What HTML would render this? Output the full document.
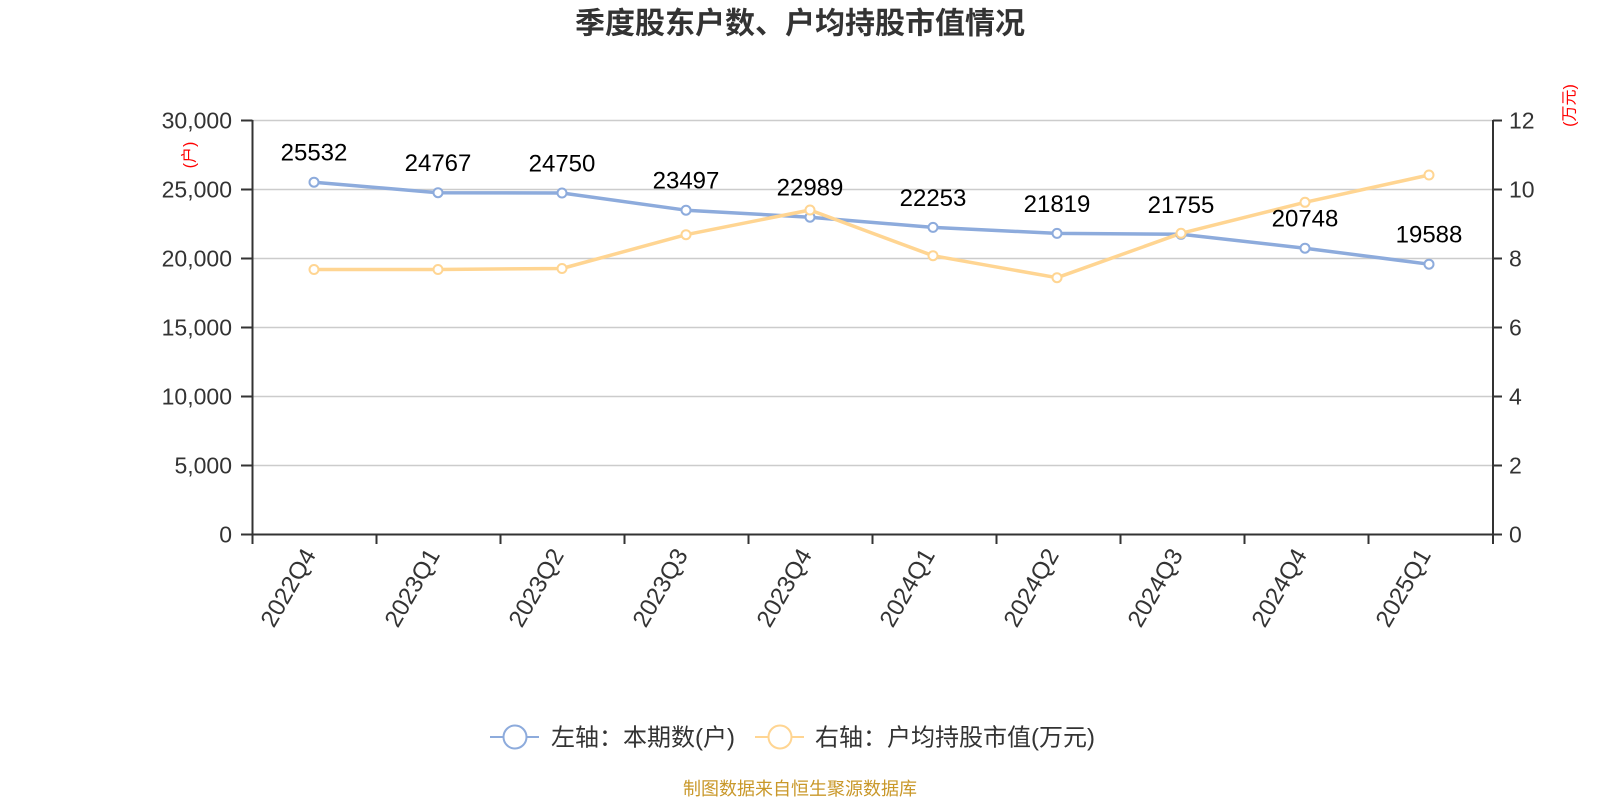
<!DOCTYPE html>
<html><head><meta charset="utf-8"><style>
html,body{margin:0;padding:0;background:#fff;}
svg{display:block;font-family:"Liberation Sans","Noto Sans CJK SC",sans-serif;}
</style></head><body>
<svg width="1600" height="800" viewBox="0 0 1600 800" xmlns="http://www.w3.org/2000/svg">
<rect width="1600" height="800" fill="#fff"/>
<text x="800" y="24" text-anchor="middle" dominant-baseline="central" font-size="30" font-weight="bold" fill="#333" font-family="'Liberation Sans','Noto Sans CJK SC',sans-serif">季度股东户数、户均持股市值情况</text>

<!-- gridlines -->
<g stroke="#cccccc" stroke-width="1.5">
<line x1="253" y1="120.5" x2="1493" y2="120.5"/>
<line x1="253" y1="189.5" x2="1493" y2="189.5"/>
<line x1="253" y1="258.5" x2="1493" y2="258.5"/>
<line x1="253" y1="327.5" x2="1493" y2="327.5"/>
<line x1="253" y1="396.5" x2="1493" y2="396.5"/>
<line x1="253" y1="465.5" x2="1493" y2="465.5"/>
</g>

<!-- axes -->
<g stroke="#333" stroke-width="2">
<line x1="252.5" y1="120" x2="252.5" y2="544"/>
<line x1="1493" y1="120" x2="1493" y2="544"/>
<line x1="252" y1="534.5" x2="1494" y2="534.5"/>
<line x1="241" y1="120.5" x2="252.5" y2="120.5"/>
<line x1="241" y1="189.5" x2="252.5" y2="189.5"/>
<line x1="241" y1="258.5" x2="252.5" y2="258.5"/>
<line x1="241" y1="327.5" x2="252.5" y2="327.5"/>
<line x1="241" y1="396.5" x2="252.5" y2="396.5"/>
<line x1="241" y1="465.5" x2="252.5" y2="465.5"/>
<line x1="241" y1="534.5" x2="252.5" y2="534.5"/>
<line x1="1493" y1="120.5" x2="1502" y2="120.5"/>
<line x1="1493" y1="189.5" x2="1502" y2="189.5"/>
<line x1="1493" y1="258.5" x2="1502" y2="258.5"/>
<line x1="1493" y1="327.5" x2="1502" y2="327.5"/>
<line x1="1493" y1="396.5" x2="1502" y2="396.5"/>
<line x1="1493" y1="465.5" x2="1502" y2="465.5"/>
<line x1="1493" y1="534.5" x2="1502" y2="534.5"/>
<line x1="376.5" y1="534.5" x2="376.5" y2="544"/>
<line x1="500.5" y1="534.5" x2="500.5" y2="544"/>
<line x1="624.5" y1="534.5" x2="624.5" y2="544"/>
<line x1="748.5" y1="534.5" x2="748.5" y2="544"/>
<line x1="872.5" y1="534.5" x2="872.5" y2="544"/>
<line x1="996.5" y1="534.5" x2="996.5" y2="544"/>
<line x1="1120.5" y1="534.5" x2="1120.5" y2="544"/>
<line x1="1244.5" y1="534.5" x2="1244.5" y2="544"/>
<line x1="1368.5" y1="534.5" x2="1368.5" y2="544"/>
</g>

<!-- left axis labels -->
<g font-size="23" fill="#333" text-anchor="end" dominant-baseline="central">
<text x="232" y="120.5">30,000</text>
<text x="232" y="189.5">25,000</text>
<text x="232" y="258.5">20,000</text>
<text x="232" y="327.5">15,000</text>
<text x="232" y="396.5">10,000</text>
<text x="232" y="465.5">5,000</text>
<text x="232" y="534.5">0</text>
</g>
<!-- right axis labels -->
<g font-size="23" fill="#333" text-anchor="start" dominant-baseline="central">
<text x="1509" y="120.5">12</text>
<text x="1509" y="189.5">10</text>
<text x="1509" y="258.5">8</text>
<text x="1509" y="327.5">6</text>
<text x="1509" y="396.5">4</text>
<text x="1509" y="465.5">2</text>
<text x="1509" y="534.5">0</text>
</g>

<!-- unit labels -->
<text x="0" y="0" transform="translate(190,155) rotate(-90)" font-size="16" fill="#ff0000" text-anchor="middle" dominant-baseline="central">(户)</text>
<text x="0" y="0" transform="translate(1570,105.5) rotate(-90)" font-size="16" fill="#ff0000" text-anchor="middle" dominant-baseline="central">(万元)</text>

<!-- x labels -->
<g font-size="24" fill="#333" text-anchor="end" dominant-baseline="central">
<text transform="translate(310,551) rotate(-60)">2022Q4</text>
<text transform="translate(434,551) rotate(-60)">2023Q1</text>
<text transform="translate(558,551) rotate(-60)">2023Q2</text>
<text transform="translate(682,551) rotate(-60)">2023Q3</text>
<text transform="translate(806,551) rotate(-60)">2023Q4</text>
<text transform="translate(929,551) rotate(-60)">2024Q1</text>
<text transform="translate(1053,551) rotate(-60)">2024Q2</text>
<text transform="translate(1177,551) rotate(-60)">2024Q3</text>
<text transform="translate(1301,551) rotate(-60)">2024Q4</text>
<text transform="translate(1425,551) rotate(-60)">2025Q1</text>
</g>

<!-- blue series -->
<polyline fill="none" stroke="#8dabdc" stroke-width="3.5" stroke-linejoin="round" points="314,182.2 438,192.7 562,193 686,210.2 810,217.2 933,227.4 1057,233.4 1181,234.3 1305,248.2 1429,264.2"/>
<!-- orange series -->
<polyline fill="none" stroke="#ffd592" stroke-width="3.5" stroke-linejoin="round" points="314,269.5 438,269.5 562,268.5 686,234.7 810,210 933,255.7 1057,277.7 1181,233.3 1305,202.3 1429,175"/>

<g fill="#fff" stroke="#8dabdc" stroke-width="2">
<circle cx="314" cy="182.2" r="4.5"/><circle cx="438" cy="192.7" r="4.5"/><circle cx="562" cy="193" r="4.5"/><circle cx="686" cy="210.2" r="4.5"/><circle cx="810" cy="217.2" r="4.5"/><circle cx="933" cy="227.4" r="4.5"/><circle cx="1057" cy="233.4" r="4.5"/><circle cx="1181" cy="234.3" r="4.5"/><circle cx="1305" cy="248.2" r="4.5"/><circle cx="1429" cy="264.2" r="4.5"/>
</g>
<g fill="#fff" stroke="#ffd592" stroke-width="2">
<circle cx="314" cy="269.5" r="4.5"/><circle cx="438" cy="269.5" r="4.5"/><circle cx="562" cy="268.5" r="4.5"/><circle cx="686" cy="234.7" r="4.5"/><circle cx="810" cy="210" r="4.5"/><circle cx="933" cy="255.7" r="4.5"/><circle cx="1057" cy="277.7" r="4.5"/><circle cx="1181" cy="233.3" r="4.5"/><circle cx="1305" cy="202.3" r="4.5"/><circle cx="1429" cy="175" r="4.5"/>
</g>

<!-- data labels -->
<g font-size="24" fill="#000" text-anchor="middle">
<text x="314" y="160.7">25532</text>
<text x="438" y="171.2">24767</text>
<text x="562" y="171.5">24750</text>
<text x="686" y="188.7">23497</text>
<text x="810" y="195.7">22989</text>
<text x="933" y="205.9">22253</text>
<text x="1057" y="211.9">21819</text>
<text x="1181" y="212.8">21755</text>
<text x="1305" y="226.7">20748</text>
<text x="1429" y="242.7">19588</text>
</g>

<!-- legend -->
<line x1="490" y1="737" x2="539" y2="737" stroke="#8dabdc" stroke-width="2"/>
<circle cx="515" cy="737" r="11.5" fill="#fff" stroke="#8dabdc" stroke-width="2"/>
<text x="551" y="738" font-size="24" fill="#333" dominant-baseline="central">左轴：本期数(户)</text>
<line x1="755" y1="737" x2="804" y2="737" stroke="#ffd592" stroke-width="2"/>
<circle cx="780" cy="737" r="11.5" fill="#fff" stroke="#ffd592" stroke-width="2"/>
<text x="815" y="738" font-size="24" fill="#333" dominant-baseline="central">右轴：户均持股市值(万元)</text>

<!-- footer -->
<text x="800" y="789" font-size="18" fill="#c9982a" text-anchor="middle" dominant-baseline="central">制图数据来自恒生聚源数据库</text>
</svg>
</body></html>
